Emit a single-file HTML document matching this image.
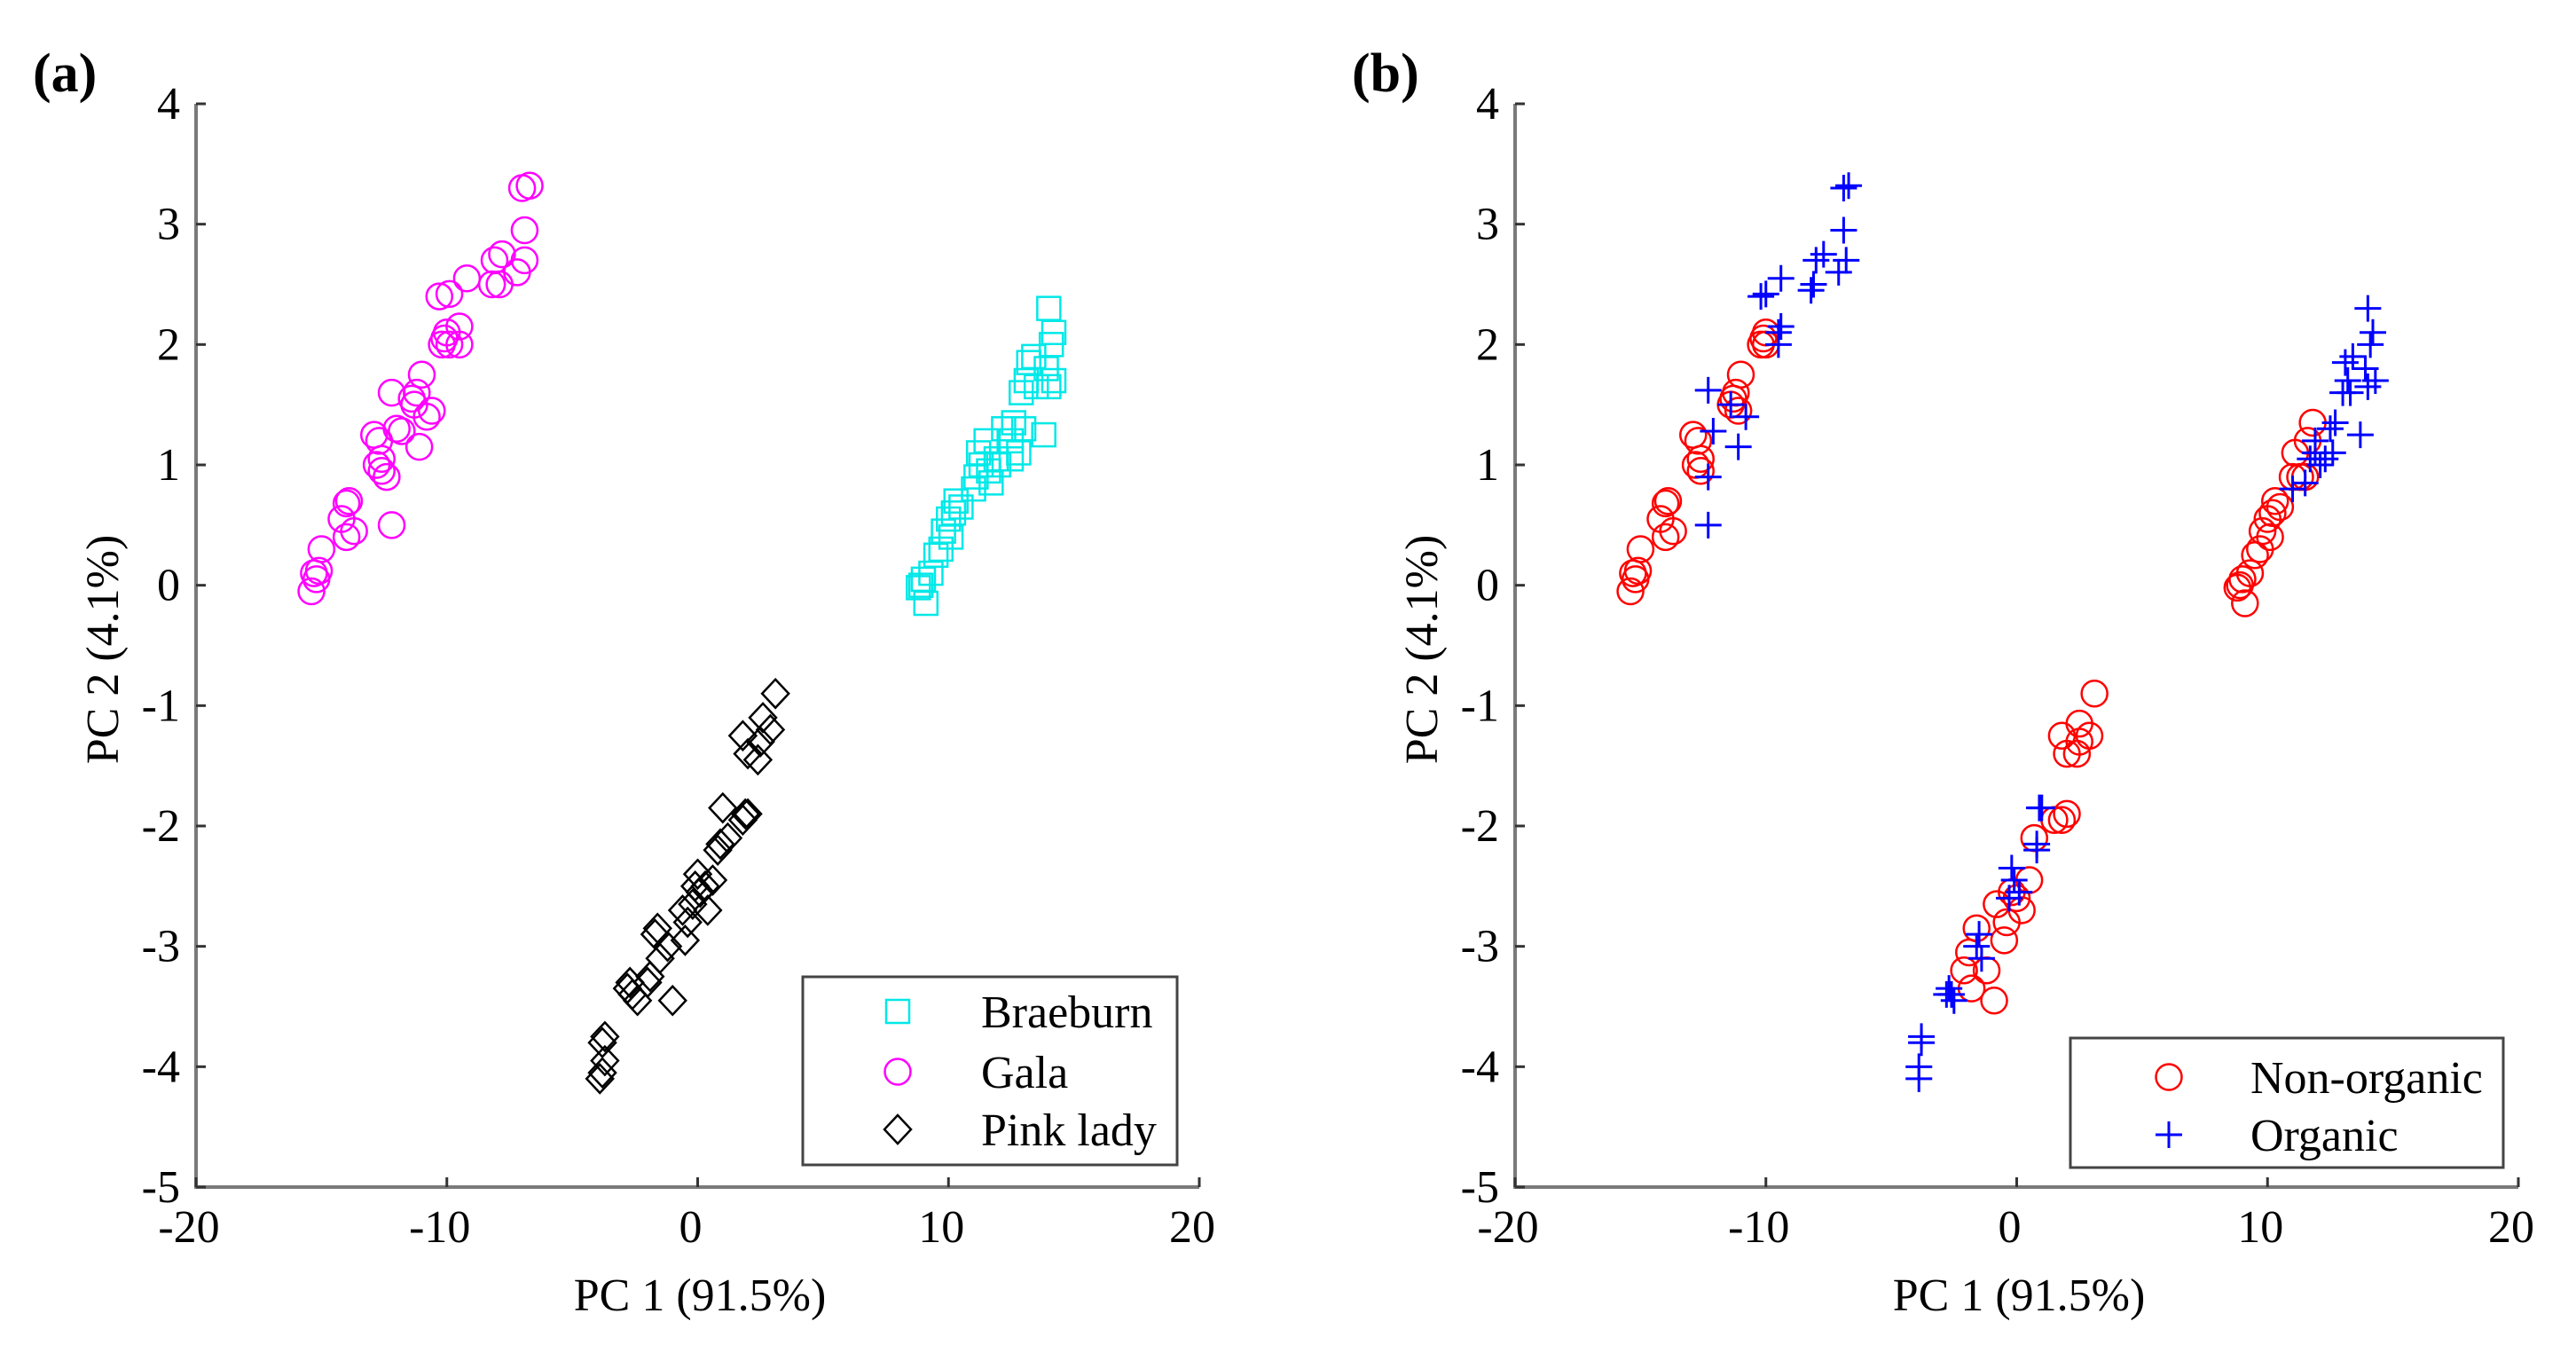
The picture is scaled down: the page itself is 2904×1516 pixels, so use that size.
<!DOCTYPE html>
<html><head><meta charset="utf-8"><style>
html,body{margin:0;padding:0;background:#fff;}
svg{display:block;}
svg text{font-family:"Liberation Serif","Times New Roman","DejaVu Serif",serif;}
</style></head><body>
<svg id="chart" width="2904" height="1516" viewBox="0 0 2904 1516" xmlns="http://www.w3.org/2000/svg">
<g id="root"></g>
</svg>
<script>
const xTicks=[-20,-10,0,10,20];
const yTicks=[4,3,2,1,0,-1,-2,-3,-4,-5];
const braeburnX=[8.9,9,8.8,9.1,9.3,9.5,9.7,9.8,10,10.2,10.3,10.1,11,11.1,11.3,11.2,11.5,11.7,11.9,12,12.2,12.5,12.6,12.8,12.9,13.1,13.2,13.4,13.5,13.8,13.9,14,14.2,14.1,14.2,14.0,12.5,11.6,10.5,13.0];
const braeburnY=[0,0.05,-0.02,-0.15,0.1,0.25,0.3,0.45,0.55,0.6,0.7,0.4,0.8,0.9,1.0,1.1,1.2,0.85,1.05,1.0,1.3,1.2,1.35,1.1,1.6,1.7,1.85,1.9,1.65,1.25,1.8,1.65,1.7,2.0,2.1,2.3,1.05,0.95,0.65,1.3];
const galaX=[-15.3,-15.2,-15.4,-15,-15.1,-14,-14.2,-13.9,-14,-13.7,-12.8,-12.7,-12.9,-12.6,-12.4,-12.6,-12.2,-12.2,-11.8,-12,-11.3,-11.2,-11,-11.1,-11.4,-10.8,-10.6,-10.2,-10.1,-10,-9.5,-9.5,-10.3,-9.9,-9.2,-8.2,-8.1,-7.8,-7.9,-7.2,-6.9,-6.9,-7,-6.7,-9.9];
const galaY=[0.1,0.05,-0.05,0.3,0.12,0.4,0.55,0.7,0.68,0.45,1.0,1.2,1.25,1.05,0.9,0.95,0.5,1.6,1.28,1.3,1.5,1.6,1.75,1.15,1.55,1.4,1.45,2.0,2.05,2.1,2.0,2.15,2.4,2.42,2.55,2.5,2.7,2.75,2.5,2.6,2.7,2.95,3.3,3.32,2.0];
const pinkX=[-3.9,-3.8,-3.7,-3.8,-3.7,-2.8,-2.6,-2.7,-2.4,-2.0,-1.9,-1.5,-1.7,-1.6,-1,-1.2,-0.6,-0.5,-0.4,-0.1,0,0.1,-0.2,0.4,0.6,0.8,0.9,1.0,1.2,1.8,1.9,2.0,1.8,2.0,2.5,2.6,2.9,3.1,2.4,0.3];
const pinkY=[-4.1,-4.05,-3.95,-3.8,-3.75,-3.35,-3.4,-3.3,-3.45,-3.3,-3.25,-3.1,-2.9,-2.85,-3.45,-3.0,-2.7,-2.95,-2.8,-2.5,-2.4,-2.55,-2.65,-2.7,-2.45,-2.2,-2.15,-1.85,-2.1,-1.95,-1.9,-1.9,-1.25,-1.4,-1.3,-1.1,-1.2,-0.9,-1.45,-2.5];
const nonOrgX=[-15.3,-15.2,-15.4,-15,-15.1,-14,-14.2,-13.9,-14,-13.7,-12.8,-12.7,-12.9,-12.6,-12.6,-11.3,-11.2,-11,-11.4,-11.1,-10.2,-10.1,-10,-10.0,
 8.9,9,8.8,9.1,9.3,9.5,9.7,9.8,10,10.2,10.3,10.1,11,11.1,11.3,11.6,11.8,11.5,10.5,
 -2.1,-1.8,-1.9,-1.6,-1.2,-0.9,-0.8,-0.5,-0.4,0,0.2,0.5,0.7,1.8,2.0,1.5,1.8,2.0,2.5,2.5,2.9,3.1,2.4,-0.2];
const nonOrgY=[0.1,0.05,-0.05,0.3,0.12,0.4,0.55,0.7,0.68,0.45,1.0,1.2,1.25,1.05,0.95,1.55,1.6,1.75,1.5,1.45,2.0,2.05,2.1,2.0,
 0,0.05,-0.02,-0.15,0.1,0.25,0.3,0.45,0.55,0.6,0.7,0.4,0.9,1.1,0.9,1.2,1.35,0.9,0.65,
 -3.2,-3.35,-3.05,-2.85,-3.2,-3.45,-2.65,-2.95,-2.8,-2.6,-2.7,-2.45,-2.1,-1.95,-1.9,-1.95,-1.25,-1.4,-1.3,-1.15,-1.25,-0.9,-1.4,-2.55];
const orgX=[-12.3,-12.1,-12.3,-12.3,-11.4,-10.8,-11.1,-10.2,-10,-9.4,-9.5,-9.5,-9.4,-8.1,-8.2,-8.0,-7.7,-7.1,-6.8,-6.9,-6.9,-6.7,
 11.0,11.5,11.7,11.9,12.1,12.3,11.9,12.5,12.7,13.0,13.2,13.1,13.4,13.7,13.9,14,14.3,14.1,14.2,14.0,12.6,13.3,
 -3.9,-3.9,-3.8,-3.8,-2.7,-2.6,-2.5,-2.8,-1.6,-1.5,-1.4,-0.2,-0.1,-0.3,0.1,0.8,0.9,1.0,0.8];
const orgY=[1.62,1.28,0.9,0.5,1.5,1.4,1.15,2.4,2.42,2.55,2.0,2.1,2.15,2.5,2.45,2.7,2.75,2.6,2.7,2.95,3.3,3.32,
 0.8,0.85,1.05,1.1,1.0,1.05,1.2,1.3,1.35,1.6,1.7,1.85,1.9,1.25,1.8,1.65,1.7,2.0,2.1,2.3,1.1,1.6,
 -4.1,-4.0,-3.8,-3.75,-3.35,-3.4,-3.45,-3.4,-3.0,-2.9,-3.1,-2.35,-2.45,-2.6,-2.55,-2.15,-1.85,-1.85,-2.2];

const NS='http://www.w3.org/2000/svg';
const FONT='"Liberation Serif","Times New Roman","DejaVu Serif",serif';
const root=document.getElementById('root');
function mk(tag,attrs,parent,text){const e=document.createElementNS(NS,tag);for(const k in attrs)e.setAttribute(k,attrs[k]);if(tag==='text')e.setAttribute('font-family',FONT);if(text!==undefined)e.textContent=text;(parent||root).appendChild(e);return e;}
const TOP=117,BOT=1338,W=1131;
function makeAxes(x0){
  return {x:v=>x0+(v+20)/40*W,y:v=>TOP+(4-v)/9*(BOT-TOP)};
}
function marker(g,kind,cx,cy,color){
  let e;
  if(kind==='square'){e=mk('rect',{x:cx-13,y:cy-13,width:26,height:26,fill:'none',stroke:color,'stroke-width':2.5},g);}
  else if(kind==='circle'){e=mk('circle',{cx:cx,cy:cy,r:14.5,fill:'none',stroke:color,'stroke-width':2.5},g);}
  else if(kind==='diamond'){e=mk('path',{d:`M${cx},${cy-16}L${cx+15},${cy}L${cx},${cy+16}L${cx-15},${cy}Z`,fill:'none',stroke:color,'stroke-width':2.5},g);}
  else {e=mk('path',{d:`M${cx-15},${cy}H${cx+15}M${cx},${cy-15}V${cy+15}`,fill:'none',stroke:color,'stroke-width':3},g);}
  return e;
}
function panel(x0,label,name){
  const ax=makeAxes(x0);
  const g=mk('g',{});
  
  
  const t=mk('text',{x:x0-184,y:103,'font-size':62,'font-weight':'bold'},g,label);
  
  
  const axl=mk('path',{d:`M${x0},${TOP}V${BOT}H${x0+W}`,fill:'none',stroke:'#7a7a7a','stroke-width':4},g);
  
  
  xTicks.forEach(v=>{
    const X=ax.x(v);
    mk('line',{x1:X,y1:BOT,x2:X,y2:BOT-11,stroke:'#333','stroke-width':3},g);
    const tx=mk('text',{x:X-8,y:1400,'font-size':52,'text-anchor':'middle'},g,String(v));
    
    
  });
  yTicks.forEach(v=>{
    const Y=ax.y(v);
    mk('line',{x1:x0,y1:Y,x2:x0+11,y2:Y,stroke:'#333','stroke-width':3},g);
    const ty=mk('text',{x:x0-18,y:Y+17,'font-size':52,'text-anchor':'end'},g,String(v));
    
    
  });
  const xt=mk('text',{x:x0+568,y:1477,'font-size':52,'text-anchor':'middle'},g,'PC 1 (91.5%)');
  
  
  const yt=mk('text',{x:0,y:0,'font-size':52,'text-anchor':'middle',transform:`translate(${x0-88},732) rotate(-90)`},g,'PC 2 (4.1%)');
  
  
  return {ax,g};
}
function series(p,xs,ys,kind,color,name){
  const g=mk('g',{},p.g);
  
  
  xs.forEach((v,i)=>{
    const m=marker(g,kind,p.ax.x(v),p.ax.y(ys[i]),color);
    
    
  });
}
function legend(p,box,entries,mx,tx){
  const g=mk('g',{},p.g);
  
  
  mk('rect',{x:box[0],y:box[1],width:box[2],height:box[3],fill:'#fff',stroke:'#444','stroke-width':3},g);
  entries.forEach(en=>{
    const eg=mk('g',{},g);
    
    
    marker(eg,en[1],mx,en[3],en[2]);
    mk('text',{x:tx,y:en[3]+18,'font-size':52},eg,en[0]);
  });
}
const pa=panel(221,'(a)','panel-a-variety');
series(pa,galaX,galaY,'circle','#ff00ff','gala-series');
series(pa,braeburnX,braeburnY,'square','#00e8e8','braeburn-series');
series(pa,pinkX,pinkY,'diamond','#000','pink-lady-series');
legend(pa,[905,1101,422,212],[['Braeburn','square','#00e8e8',1140],['Gala','circle','#ff00ff',1208],['Pink lady','diamond','#000',1273]],1012,1106);

const pb=panel(1708,'(b)','panel-b-cultivation');
series(pb,nonOrgX,nonOrgY,'circle','#ff0000','non-organic-series');
series(pb,orgX,orgY,'plus','#0000ff','organic-series');
legend(pb,[2334,1170,488,146],[['Non-organic','circle','#ff0000',1214],['Organic','plus','#0000ff',1279]],2445,2537);
</script>
</body></html>
